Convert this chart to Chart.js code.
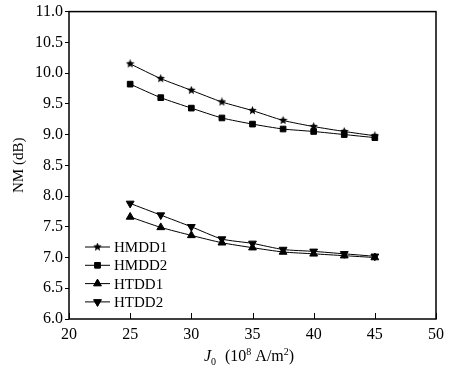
<!DOCTYPE html>
<html>
<head>
<meta charset="utf-8">
<script src="https://cdn.jsdelivr.net/npm/chart.js@4/dist/chart.umd.min.js"></script>
<style>
  html, body { margin: 0; padding: 0; background: #fff; }
  #wrap { width: 469px; height: 375px; }
</style>
</head>
<body>
<div id="wrap"><canvas id="nmChart" width="469" height="375"></canvas></div>
<script>
// current density J0 (10^8 A/m^2)
const jValues = [25, 27.5, 30, 32.5, 35, 37.5, 40, 42.5, 45];

const hmdd1 = [10.15, 9.91, 9.72, 9.53, 9.39, 9.23, 9.13, 9.05, 8.98];
const hmdd2 = [9.82, 9.6, 9.43, 9.27, 9.17, 9.09, 9.05, 9.0, 8.95];
const htdd1 = [7.66, 7.49, 7.36, 7.24, 7.16, 7.09, 7.06, 7.03, 7.0];
const htdd2 = [7.88, 7.69, 7.5, 7.3, 7.23, 7.13, 7.1, 7.06, 7.02];

const seriesNames = ["HMDD1", "HMDD2", "HTDD1", "HTDD2"];
const xTicks = [20, 25, 30, 35, 40, 45, 50];

const FONT = "'Liberation Serif', 'DejaVu Serif', serif";

// small filled star for HMDD1 markers
function makeStar(size) {
  let c = document.createElement("canvas");
  c.width = size;
  c.height = size;
  let g = c.getContext("2d");
  let cx = size / 2, cy = size / 2, R = size / 2, r = R * 0.45;
  g.beginPath();
  for (let i = 0; i < 10; i++) {
    let rad = i % 2 == 0 ? R : r;
    let a = -Math.PI / 2 + (i * Math.PI) / 5;
    g.lineTo(cx + rad * Math.cos(a), cy + rad * Math.sin(a));
  }
  g.closePath();
  g.fillStyle = "#000";
  g.fill();
  return c;
}

const starImg = makeStar(9);

const markers = [
  { pointStyle: starImg, radius: 4.5, rotation: 0 },
  { pointStyle: "rect", radius: 4, rotation: 0 },
  { pointStyle: "triangle", radius: 4.5, rotation: 0 },
  { pointStyle: "triangle", radius: 4.5, rotation: 180 },
];

function toPoints(ys) {
  return jValues.map((x, i) => ({ x: x, y: ys[i] }));
}

const allSeries = [hmdd1, hmdd2, htdd1, htdd2];

const datasets = allSeries.map((ys, i) => ({
  label: seriesNames[i],
  data: toPoints(ys),
  borderColor: "#000",
  backgroundColor: "#000",
  borderWidth: 1,
  pointStyle: markers[i].pointStyle,
  pointRadius: markers[i].radius,
  pointRotation: markers[i].rotation,
  pointBorderWidth: 1,
  tension: 0.2,
}));

// frame, inward x ticks, legend and x title
const decorations = {
  id: "decorations",
  afterDraw(chart) {
    const ctx = chart.ctx;
    const a = chart.chartArea;
    const xs = chart.scales.x;
    ctx.save();
    ctx.strokeStyle = "#000";
    ctx.lineWidth = 1.5;
    ctx.strokeRect(a.left, a.top, a.right - a.left, a.bottom - a.top);

    ctx.lineWidth = 1;
    xTicks.forEach((v) => {
      let px = Math.round(xs.getPixelForValue(v)) + 0.5;
      ctx.beginPath();
      ctx.moveTo(px, a.bottom);
      ctx.lineTo(px, a.bottom - 6);
      ctx.stroke();
    });

    // legend
    ctx.font = "15px " + FONT;
    ctx.textBaseline = "middle";
    ctx.textAlign = "left";
    ctx.fillStyle = "#000";
    seriesNames.forEach((name, i) => {
      let y = 247 + i * 18.3;
      ctx.beginPath();
      ctx.moveTo(85, y);
      ctx.lineTo(110, y);
      ctx.stroke();
      Chart.helpers.drawPoint(
        ctx,
        {
          pointStyle: markers[i].pointStyle,
          radius: markers[i].radius,
          rotation: markers[i].rotation,
          borderWidth: 1,
        },
        97.5,
        y
      );
      ctx.fillStyle = "#000";
      ctx.fill();
      ctx.fillText(name, 114, y + 1);
    });

    // x axis title: J0 (10^8 A/m^2)
    let y0 = 357;
    let x0 = 204;
    ctx.font = "italic 16px " + FONT;
    ctx.fillText("J", x0, y0);
    x0 += ctx.measureText("J").width;
    ctx.font = "10px " + FONT;
    ctx.fillText("0", x0, y0 + 5);
    x0 = 225;
    ctx.font = "16px " + FONT;
    ctx.fillText("(10", x0, y0);
    x0 += ctx.measureText("(10").width;
    ctx.font = "10px " + FONT;
    ctx.fillText("8", x0, y0 - 5);
    x0 += ctx.measureText("8").width + 4;
    ctx.font = "16px " + FONT;
    ctx.fillText("A/m", x0, y0);
    x0 += ctx.measureText("A/m").width;
    ctx.font = "10px " + FONT;
    ctx.fillText("2", x0, y0 - 5);
    x0 += ctx.measureText("2").width;
    ctx.font = "16px " + FONT;
    ctx.fillText(")", x0, y0);
    ctx.restore();
  },
};

const ctx = document.getElementById("nmChart").getContext("2d");

const nmChart = new Chart(ctx, {
  type: "line",
  data: { datasets: datasets },
  plugins: [decorations],
  options: {
    responsive: false,
    animation: false,
    layout: { padding: { left: 10, top: 11, right: 33, bottom: 0 } },
    plugins: {
      legend: { display: false },
      tooltip: { enabled: false },
    },
    scales: {
      x: {
        type: "linear",
        min: 20,
        max: 50,
        afterBuildTicks: (scale) => {
          scale.ticks = xTicks.map((v) => ({ value: v }));
        },
        border: { display: false },
        grid: { display: false },
        ticks: {
          color: "#000",
          padding: -2,
          maxRotation: 0,
          font: { family: FONT, size: 16 },
        },
        afterFit: (scale) => {
          scale.height = 56;
        },
      },
      y: {
        min: 6,
        max: 11,
        border: { display: false },
        grid: {
          drawOnChartArea: false,
          drawTicks: true,
          tickLength: 4,
          color: "#000",
        },
        ticks: {
          stepSize: 0.5,
          color: "#000",
          padding: 2,
          font: { family: FONT, size: 16 },
          callback: (v) => v.toFixed(1),
        },
        title: {
          display: true,
          text: "NM (dB)",
          color: "#000",
          padding: { top: 0, bottom: 4 },
          font: { family: FONT, size: 15 },
        },
        afterFit: (scale) => {
          scale.width = 59;
        },
      },
    },
  },
});
</script>
</body>
</html>
